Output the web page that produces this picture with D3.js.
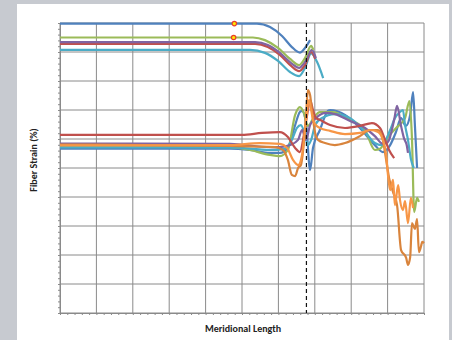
<!DOCTYPE html>
<html>
<head>
<meta charset="utf-8">
<script src="https://cdn.jsdelivr.net/npm/d3@7"></script>
<style>
  body { margin: 0; background: #c7cad0; }
  #chart { width: 452px; height: 340px; }
</style>
</head>
<body>
<div id="chart"></div>
<script>
// ------------- Data (x = % of meridional length, y = strain units) ----------------- //
const xTicks = [0, 10, 20, 30, 40, 50, 60, 70, 80, 90, 100];
const yTicks = [0, 1, 2, 3, 4, 5, 6, 7, 8, 9, 10];
const cutX = 67.7; // dashed marker

// upper group
const upBlue = [[0, 9.98], [54.1, 9.98], [57.7, 9.86], [61.0, 9.55], [63.7, 9.17], [65.9, 8.98], [67.3, 9.14], [68.7, 9.41]];
const upGreen = [[0, 9.5], [53.0, 9.5], [56.3, 9.41], [59.9, 9.14], [63.2, 8.76], [65.7, 8.55], [67.3, 8.79], [69.0, 9.21], [69.6, 9.07]];
const upPurple = [[0, 9.34], [53.6, 9.34], [57.1, 9.24], [60.4, 8.97], [63.5, 8.62], [65.7, 8.45], [67.3, 8.66], [69.2, 9.07], [70.3, 8.79]];
const upRed = [[0, 9.28], [53.6, 9.28], [57.1, 9.17], [60.4, 8.9], [63.5, 8.52], [65.7, 8.34], [67.3, 8.55], [69.0, 9.0], [70.1, 8.76]];
const upTeal = [[0, 9.07], [52.2, 9.07], [56.3, 8.97], [59.9, 8.69], [63.2, 8.31], [65.7, 8.17], [67.3, 8.45], [69.0, 8.95], [70.6, 8.66], [72.3, 8.1]];
const upMarks = [[47.9, 9.98], [47.7, 9.5]];

// lower group
const loRed = [[0, 6.14], [50.0, 6.14], [55.5, 6.21], [60.4, 6.24], [62.6, 6.07], [64.6, 5.69], [65.9, 5.55], [67.0, 6.14], [67.9, 6.83], [68.7, 7.34], [69.5, 7.0], [70.3, 6.72], [71.4, 6.66], [74.2, 6.48], [78.3, 6.38], [82.4, 6.45], [85.7, 6.55], [87.9, 6.38], [89.3, 5.97], [90.4, 5.62], [91.8, 5.34]];
const loBlue = [[0, 5.67], [46.7, 5.67], [52.2, 5.62], [57.7, 5.52], [60.4, 5.52], [62.6, 5.69], [64.6, 6.48], [65.9, 6.93], [66.5, 6.97], [67.6, 6.55], [68.7, 4.93], [69.5, 5.69], [71.4, 6.31], [73.6, 6.97], [74.2, 7.0], [78.3, 6.83], [82.4, 6.38], [86.5, 5.79], [88.7, 5.55], [90.7, 5.79], [92.3, 6.24], [93.7, 6.72], [95.0, 6.45], [96.2, 6.83], [97.0, 7.62], [97.5, 6.48], [98.1, 5.0]];
const loGreen = [[0, 5.74], [46.7, 5.72], [52.2, 5.62], [57.7, 5.45], [60.4, 5.41], [62.6, 5.62], [64.6, 6.83], [65.9, 7.1], [67.0, 6.9], [68.1, 6.45], [69.8, 6.76], [71.4, 6.93], [74.9, 6.93], [79.7, 6.66], [83.8, 6.31], [86.5, 5.62], [87.9, 5.66], [90.1, 6.07], [92.6, 6.41], [94.8, 6.72], [96.0, 7.31], [96.7, 6.0], [97.3, 3.48], [98.1, 3.97], [98.6, 3.83]];
const loPurple = [[0, 5.84], [46.7, 5.83], [57.7, 5.72], [60.4, 5.72], [63.2, 5.79], [65.4, 5.97], [66.5, 6.31], [67.6, 5.97], [68.7, 6.48], [70.3, 6.72], [73.0, 6.9], [75.5, 6.86], [79.7, 6.62], [83.8, 6.38], [86.5, 6.1], [88.7, 5.83], [90.1, 5.9], [91.8, 6.66], [92.6, 7.14], [93.7, 6.45], [94.5, 6.03], [95.3, 5.76], [95.6, 5.52]];
const loTeal = [[0, 5.71], [46.7, 5.71], [57.7, 5.62], [61.8, 5.66], [63.7, 5.97], [65.1, 6.38], [66.2, 6.48], [67.3, 6.14], [68.1, 5.79], [69.0, 5.97], [70.1, 6.48], [71.9, 6.72], [75.5, 6.86], [79.7, 6.72], [83.8, 6.24], [86.5, 5.86], [88.4, 5.79], [90.7, 6.31], [92.0, 6.72], [93.4, 6.93], [94.2, 7.0], [94.8, 6.48], [95.6, 5.97], [96.4, 5.31], [97.2, 5.0]];
const loOrange = [[0, 5.78], [46.7, 5.79], [54.9, 5.86], [60.4, 5.83], [62.4, 5.69], [64.0, 5.28], [65.4, 5.1], [66.5, 5.45], [67.6, 6.66], [68.4, 7.34], [69.0, 7.0], [69.5, 6.66], [70.3, 6.48], [71.4, 6.38], [74.2, 6.28], [78.3, 6.17], [82.4, 6.21], [85.2, 6.31], [87.4, 6.24], [88.7, 5.97], [89.6, 5.45], [90.1, 4.76], [90.7, 4.24], [91.5, 4.59], [92.0, 3.72], [92.9, 4.41], [93.4, 3.9], [94.2, 3.55], [94.8, 3.86], [95.6, 3.1], [96.4, 3.97], [97.0, 3.62]];
const loDkOrange = [[0, 5.81], [46.7, 5.76], [59.1, 5.72], [61.3, 5.62], [62.6, 5.28], [63.7, 4.76], [64.6, 4.72], [65.4, 5.0], [66.2, 5.1], [66.8, 5.62], [67.6, 6.83], [68.1, 7.69], [68.7, 7.52], [69.2, 7.0], [70.1, 6.21], [70.9, 5.97], [72.8, 5.86], [75.5, 5.79], [78.3, 5.86], [82.4, 6.1], [85.2, 6.31], [87.4, 6.31], [88.7, 5.97], [89.6, 5.28], [90.4, 4.66], [91.5, 4.17], [92.6, 3.72], [93.7, 2.17], [95.1, 1.9], [95.6, 1.66], [96.2, 1.93], [96.7, 3.1], [97.5, 2.9], [98.1, 3.24], [98.6, 2.1], [99.2, 2.31], [99.5, 2.45], [100, 2.41]];

const series = [
  { values: loBlue, color: '#4f81bd' },
  { values: loGreen, color: '#9bbb59' },
  { values: loTeal, color: '#4bacc6' },
  { values: loPurple, color: '#8064a2' },
  { values: loRed, color: '#c0504d' },
  { values: loDkOrange, color: '#d9843c' },
  { values: loOrange, color: '#f79646' },
  { values: upTeal, color: '#4bacc6' },
  { values: upRed, color: '#c0504d' },
  { values: upPurple, color: '#8064a2' },
  { values: upGreen, color: '#9bbb59' },
  { values: upBlue, color: '#4f81bd' }
];

// ------------- Layout ----------------- //
const margin = { top: 23, right: 28, bottom: 27, left: 60 },
  width = 452 - margin.left - margin.right,
  height = 340 - margin.top - margin.bottom;

const root = d3.select('#chart').append('svg').attr('width', 452).attr('height', 340);

// white panel over gray backdrop
root.append('rect').attr('x', 17).attr('y', 4).attr('width', 432).attr('height', 336).attr('fill', '#ffffff');

const svg = root.append('g').attr('transform', 'translate(' + margin.left + ',' + margin.top + ')');

const x = d3.scaleLinear().domain([0, 100]).range([0, width]);
const y = d3.scaleLinear().domain([0, 10]).range([height, 0]);

// grid
svg.append('g').selectAll('line').data(xTicks).join('line')
  .attr('x1', (d) => x(d)).attr('x2', (d) => x(d))
  .attr('y1', 0).attr('y2', height)
  .attr('stroke', '#8a8a8a').attr('stroke-width', 1);
svg.append('g').selectAll('line').data(yTicks).join('line')
  .attr('x1', 0).attr('x2', width)
  .attr('y1', (d) => y(d)).attr('y2', (d) => y(d))
  .attr('stroke', '#8a8a8a').attr('stroke-width', 1);

// minor ticks on left and bottom axes
const yMinor = d3.range(0, 10.01, 0.2);
const xMinor = d3.range(0, 100.01, 2);
svg.append('g').call(d3.axisLeft(y).tickValues(yMinor).tickSize(2).tickFormat(''))
  .call((g) => g.select('.domain').attr('stroke', '#8a8a8a'))
  .selectAll('.tick line').attr('stroke', '#8a8a8a');
svg.append('g').attr('transform', 'translate(0,' + height + ')')
  .call(d3.axisBottom(x).tickValues(xMinor).tickSize(2).tickFormat(''))
  .call((g) => g.select('.domain').attr('stroke', '#8a8a8a'))
  .selectAll('.tick line').attr('stroke', '#8a8a8a');

// lines
const line = d3.line()
  .x((d) => x(d[0]))
  .y((d) => y(d[1]))
  .curve(d3.curveMonotoneX);

series.forEach(function (s) {
  svg.append('path')
    .datum(s.values)
    .attr('fill', 'none')
    .attr('stroke', s.color)
    .attr('stroke-width', 2.2)
    .attr('stroke-linejoin', 'round')
    .attr('d', line);
});

// dashed marker
svg.append('line')
  .attr('x1', x(cutX)).attr('x2', x(cutX))
  .attr('y1', 0).attr('y2', height)
  .attr('stroke', '#111').attr('stroke-width', 1.2)
  .attr('stroke-dasharray', '4,3');

// point markers
svg.append('g').selectAll('circle').data(upMarks).join('circle')
  .attr('cx', (d) => x(d[0])).attr('cy', (d) => y(d[1]))
  .attr('r', 2.2)
  .attr('fill', '#ffe800').attr('stroke', '#e8402a').attr('stroke-width', 1.2);

// axis titles
root.append('text')
  .attr('transform', 'translate(37,160) rotate(-90)')
  .attr('text-anchor', 'middle')
  .attr('font-family', 'Carlito, "Liberation Sans", sans-serif')
  .attr('font-size', 10).attr('font-weight', 'bold').attr('fill', '#222')
  .text('Fiber Strain (%)');

root.append('text')
  .attr('x', 243).attr('y', 332)
  .attr('text-anchor', 'middle')
  .attr('font-family', 'Carlito, "Liberation Sans", sans-serif')
  .attr('font-size', 10).attr('font-weight', 'bold').attr('fill', '#222')
  .text('Meridional Length');
</script>
</body>
</html>
